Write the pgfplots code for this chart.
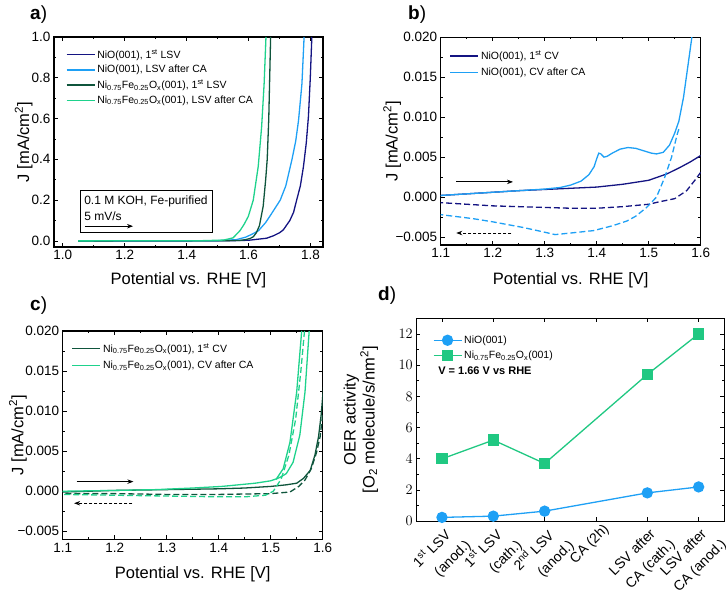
\documentclass[border=0pt]{standalone}
\usepackage{fontspec}
\setmainfont{Liberation Sans}
\usepackage{pgfplots}
\pgfplotsset{compat=1.18}
\usetikzlibrary{arrows.meta}
\definecolor{navyc}{RGB}{20,20,130}
\definecolor{lblue}{RGB}{30,160,245}
\definecolor{dgreen}{RGB}{15,85,60}
\definecolor{lgreen}{RGB}{30,210,140}
\definecolor{dgrn}{RGB}{32,200,130}
\newcommand{\lgfont}{\fontsize{10.5}{12}\selectfont}
\pgfplotsset{
 myaxis/.style={
  scale only axis,
  anchor=south west,
  scaled y ticks=false, scaled x ticks=false,
  axis line style={line width=1.2pt},
  tick style={black, line width=0.7pt},
  tick align=inside,
  xtick pos=both, ytick pos=both,
  major tick length=4pt, minor tick length=2.2pt,
  tick label style={font=\fontsize{13.5}{15}\selectfont},
  label style={font=\fontsize{16.5}{19}\selectfont},
  xlabel style={anchor=center},
  ylabel style={anchor=center},
  every axis plot/.append style={line width=1.3pt},
  legend style={draw=none, fill=none, font=\lgfont, nodes={font=\lgfont}, row sep=0pt, inner sep=1pt},
  legend cell align=left,
  legend image code/.code={\draw[line width=1.3pt,mark repeat=2,mark phase=2,##1] plot coordinates {(0pt,0pt) (14pt,0pt) (28pt,0pt)};},
 },
 dsh/.style={dash pattern=on 6pt off 3pt},
}
\begin{document}
\begin{tikzpicture}
\useasboundingbox (0,0) rectangle (726pt,596pt);
% ---------------- a
\begin{axis}[myaxis, at={(54pt,349pt)}, width=269pt, height=210pt,
 xmin=0.972, xmax=1.84, ymin=-0.03, ymax=1.0,
 xtick={1.0,1.2,1.4,1.6,1.8}, xticklabels={1.0,1.2,1.4,1.6,1.8},
 ytick={0,0.2,0.4,0.6,0.8,1.0}, yticklabels={0.0,0.2,0.4,0.6,0.8,1.0},
 minor x tick num=1, minor y tick num=1,
 xlabel={Potential vs. RHE [V]}, ylabel={J [mA/cm\textsuperscript{2}]},
 xlabel style={at={(axis description cs:0.5,-0.157)}},
 ylabel style={at={(axis description cs:-0.113,0.5)}},
 legend style={at={(0.04,0.955)}, anchor=north west, row sep=1.5pt}]
\addplot[navyc] coordinates {(1.05,0) (1.4,0) (1.55,0.001) (1.6,0.003) (1.658,0.013) (1.68,0.025) (1.7,0.04) (1.712,0.054) (1.733,0.10) (1.745,0.14) (1.755,0.2) (1.767,0.27) (1.777,0.365) (1.786,0.48) (1.793,0.61) (1.799,0.8) (1.804,1.0)};
\addlegendentry{NiO(001), 1\textsuperscript{st} LSV}
\addplot[lblue] coordinates {(1.05,0) (1.5,0.001) (1.56,0.006) (1.59,0.018) (1.61,0.032) (1.632,0.05) (1.655,0.09) (1.675,0.136) (1.702,0.2) (1.72,0.27) (1.74,0.4) (1.752,0.49) (1.761,0.59) (1.772,0.77) (1.779,1.0)};
\addlegendentry{NiO(001), LSV after CA}
\addplot[dgreen] coordinates {(1.05,0) (1.5,0.0005) (1.57,0.002) (1.59,0.006) (1.605,0.012) (1.615,0.02) (1.625,0.04) (1.635,0.075) (1.647,0.17) (1.655,0.3) (1.66,0.4) (1.665,0.6) (1.668,0.8) (1.671,1.0)};
\addlegendentry{Ni\textsubscript{0.75}Fe\textsubscript{0.25}O\textsubscript{x}(001), 1\textsuperscript{st} LSV}
\addplot[lgreen] coordinates {(1.05,0) (1.45,0.001) (1.52,0.004) (1.55,0.015) (1.572,0.05) (1.585,0.08) (1.599,0.12) (1.615,0.2) (1.631,0.365) (1.642,0.56) (1.65,0.77) (1.656,1.0)};
\addlegendentry{Ni\textsubscript{0.75}Fe\textsubscript{0.25}O\textsubscript{x}(001), LSV after CA}
\draw[line width=0.8pt] (axis cs:1.056,0.043) rectangle (axis cs:1.482,0.247);
\node[anchor=base west, inner sep=0pt, font=\fontsize{12}{14}\selectfont] at (axis cs:1.069,0.177) {0.1 M KOH, Fe-purified};
\node[anchor=base west, inner sep=0pt, font=\fontsize{12}{14}\selectfont] at (axis cs:1.069,0.098) {5 mV/s};
\draw[-{Stealth[length=6pt]}, line width=0.8pt] (axis cs:1.072,0.072) -- (axis cs:1.227,0.072);
\end{axis}
% ---------------- b
\begin{axis}[myaxis, at={(440.7pt,351pt)}, width=260pt, height=207.7pt,
 xmin=1.1, xmax=1.6, ymin=-0.006, ymax=0.02,
 xtick={1.1,1.2,1.3,1.4,1.5,1.6}, xticklabels={1.1,1.2,1.3,1.4,1.5,1.6},
 ytick={-0.005,0,0.005,0.01,0.015,0.02}, yticklabels={−0.005,0.000,0.005,0.010,0.015,0.020},
 minor x tick num=1, minor y tick num=1,
 xlabel={Potential vs. RHE [V]}, ylabel={J [mA/cm\textsuperscript{2}]},
 xlabel style={at={(axis description cs:0.5,-0.169)}},
 ylabel style={at={(axis description cs:-0.187,0.5)}},
 legend style={at={(0.03,0.95)}, anchor=north west, row sep=3pt}]
\addplot[navyc] coordinates {(1.1,0.0002) (1.15,0.0004) (1.2,0.0006) (1.25,0.0008) (1.3,0.00095) (1.35,0.0011) (1.4,0.00125) (1.45,0.0016) (1.5,0.0021) (1.535,0.0029) (1.56,0.0037) (1.58,0.0044) (1.6,0.0052)};
\addlegendentry{NiO(001), 1\textsuperscript{st} CV}
\addplot[lblue] coordinates {(1.1,0.0002) (1.2,0.0006) (1.3,0.001) (1.33,0.0012) (1.35,0.0015) (1.37,0.002) (1.385,0.0028) (1.395,0.0038) (1.4,0.0048) (1.404,0.0055) (1.408,0.0054) (1.414,0.005) (1.42,0.0051) (1.43,0.0055) (1.445,0.006) (1.46,0.0062) (1.475,0.0061) (1.49,0.0058) (1.505,0.0055) (1.515,0.0054) (1.528,0.0056) (1.54,0.0065) (1.55,0.008) (1.558,0.0095) (1.567,0.0125) (1.576,0.0167) (1.583,0.02) (1.585,0.021)};
\addlegendentry{NiO(001), CV after CA}
\addplot[navyc, dsh, forget plot] coordinates {(1.6,0.0031) (1.59,0.0022) (1.573,0.0008) (1.55,-0.0002) (1.52,-0.0006) (1.5,-0.0009) (1.45,-0.0012) (1.4,-0.0014) (1.35,-0.0014) (1.3,-0.0013) (1.25,-0.0012) (1.2,-0.0011) (1.15,-0.0009) (1.1,-0.0007)};
\addplot[lblue, dsh, forget plot] coordinates {(1.558,0.0085) (1.555,0.0079) (1.544,0.005) (1.531,0.0025) (1.515,0.0) (1.496,-0.0013) (1.475,-0.0024) (1.458,-0.003) (1.43,-0.0036) (1.394,-0.0042) (1.35,-0.0045) (1.32,-0.0047) (1.3,-0.0044) (1.258,-0.0038) (1.2,-0.0031) (1.162,-0.0027) (1.1,-0.0022)};
\draw[-{Stealth[length=6pt]}, line width=0.8pt] (axis cs:1.13,0.0019) -- (axis cs:1.239,0.0019);
\draw[-{Stealth[length=6pt]}, line width=0.8pt, dash pattern=on 3pt off 2pt] (axis cs:1.236,-0.0045) -- (axis cs:1.13,-0.0045);
\end{axis}
% ---------------- c
\begin{axis}[myaxis, at={(62.7pt,56.7pt)}, width=260pt, height=208.3pt,
 xmin=1.1, xmax=1.6, ymin=-0.006, ymax=0.02,
 xtick={1.1,1.2,1.3,1.4,1.5,1.6}, xticklabels={1.1,1.2,1.3,1.4,1.5,1.6},
 ytick={-0.005,0,0.005,0.01,0.015,0.02}, yticklabels={−0.005,0.000,0.005,0.010,0.015,0.020},
 minor x tick num=1, minor y tick num=1,
 xlabel={Potential vs. RHE [V]}, ylabel={J [mA/cm\textsuperscript{2}]},
 xlabel style={at={(axis description cs:0.5,-0.167)}},
 ylabel style={at={(axis description cs:-0.172,0.5)}},
 legend style={at={(0.03,0.955)}, anchor=north west, row sep=3pt}]
\addplot[dgreen] coordinates {(1.1,-0.0001) (1.2,0.0001) (1.3,0.0002) (1.4,0.0003) (1.45,0.0004) (1.5,0.0006) (1.53,0.0008) (1.55,0.001) (1.563,0.0016) (1.576,0.0026) (1.585,0.0045) (1.592,0.0068) (1.597,0.0095) (1.6,0.0118) (1.603,0.0145)};
\addlegendentry{Ni\textsubscript{0.75}Fe\textsubscript{0.25}O\textsubscript{x}(001), 1\textsuperscript{st} CV}
\addplot[lgreen] coordinates {(1.1,0.0) (1.2,0.0001) (1.28,0.0002) (1.35,0.0004) (1.406,0.0006) (1.47,0.001) (1.5,0.0013) (1.511,0.00155) (1.524,0.0028) (1.537,0.0061) (1.55,0.0124) (1.5596,0.02)};
\addlegendentry{Ni\textsubscript{0.75}Fe\textsubscript{0.25}O\textsubscript{x}(001), CV after CA}
\addplot[lgreen, forget plot] coordinates {(1.51,0.0015) (1.52,0.0018) (1.53,0.0022) (1.543,0.0036) (1.556,0.007) (1.566,0.0124) (1.574,0.02)};
\addplot[dgreen, dsh, forget plot] coordinates {(1.6,0.0095) (1.595,0.0068) (1.588,0.0048) (1.578,0.0028) (1.566,0.0014) (1.554,0.0006) (1.537,-0.0001) (1.5,-0.0003) (1.4,-0.0004) (1.3,-0.0004) (1.2,-0.0003) (1.1,-0.0003)};
\addplot[lgreen, dsh, forget plot] coordinates {(1.565,0.02) (1.558,0.015) (1.548,0.009) (1.535,0.0045) (1.52,0.0015) (1.505,0.0) (1.49,-0.0005) (1.45,-0.0007) (1.4,-0.0007) (1.3,-0.0006) (1.2,-0.0005) (1.1,-0.0004)};
\draw[-{Stealth[length=6pt]}, line width=0.8pt] (axis cs:1.127,0.0012) -- (axis cs:1.236,0.0012);
\draw[-{Stealth[length=6pt]}, line width=0.8pt, dash pattern=on 3pt off 2pt] (axis cs:1.234,-0.0015) -- (axis cs:1.122,-0.0015);
\end{axis}
% ---------------- d
\begin{axis}[myaxis, at={(416.3pt,74.7pt)}, width=308pt, height=203pt,
 xmin=-0.5, xmax=5.5, ymin=0, ymax=13,
 xtick={0,1,2,3,4,5},
 xticklabels={{1\textsuperscript{st} LSV\hspace*{7pt}\\(anod.)},{1\textsuperscript{st} LSV\hspace*{7pt}\\(cath.)},{2\textsuperscript{nd} LSV\hspace*{7pt}\\(anod.)},{CA (2h)},{LSV after\hspace*{7pt}\\CA (cath.)},{LSV after\hspace*{7pt}\\CA (anod.)}},
 xticklabel style={rotate=45, anchor=north east, align=right, font=\fontsize{14}{21}\selectfont, xshift=7pt, yshift=-2pt},
 ytick={0,2,4,6,8,10,12}, minor y tick num=1,
 ylabel={OER activity\\{[O\textsubscript{2} molecule/s/nm\textsuperscript{2}]}},
 ylabel style={align=center, at={(axis description cs:-0.18,0.5)}},
 legend style={at={(0.05,0.93)}, anchor=north west, row sep=2pt}]
\addplot[lblue, mark=*, mark size=5pt] coordinates {(0,0.25) (1,0.33) (2,0.65) (4,1.82) (5,2.2)};
\addlegendentry{NiO(001)}
\addplot[dgrn, mark=square*, mark size=5pt] coordinates {(0,4.0) (1,5.2) (2,3.7) (4,9.4) (5,12.0)};
\addlegendentry{Ni\textsubscript{0.75}Fe\textsubscript{0.25}O\textsubscript{x}(001)}
\node[anchor=west, font=\bfseries\fontsize{11}{13}\selectfont] at (axis description cs:0.06,0.74) {V = 1.66 V vs RHE};
\end{axis}
% panel letters
\node[anchor=base west, inner sep=0pt, font=\fontsize{19}{22}\selectfont] at (30pt,576pt) {\textbf{a})};
\node[anchor=base west, inner sep=0pt, font=\fontsize{19}{22}\selectfont] at (408pt,576pt) {\textbf{b})};
\node[anchor=base west, inner sep=0pt, font=\fontsize{19}{22}\selectfont] at (30pt,285.3pt) {\textbf{c})};
\node[anchor=base west, inner sep=0pt, font=\fontsize{19}{22}\selectfont] at (378pt,295.3pt) {\textbf{d})};
\end{tikzpicture}
\end{document}
